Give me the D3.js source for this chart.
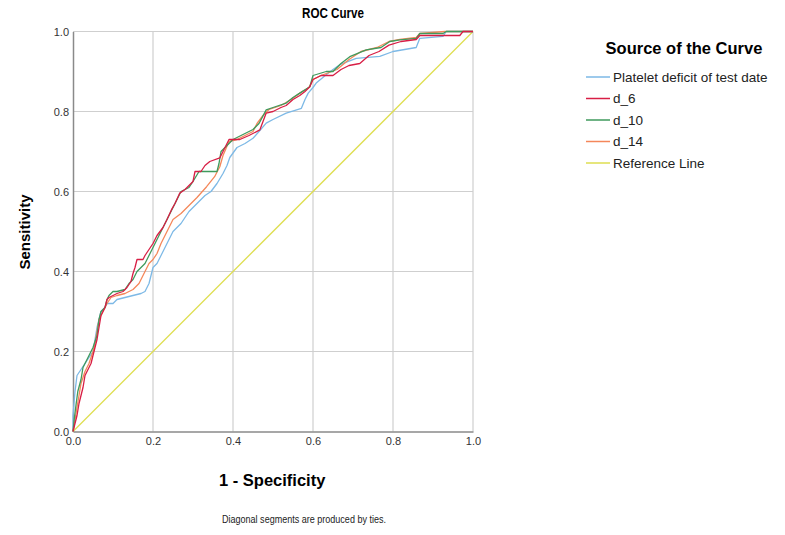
<!DOCTYPE html>
<html><head><meta charset="utf-8">
<script src="https://cdn.jsdelivr.net/npm/d3@7"></script>
<style>body{margin:0;background:#fff}svg{display:block;font-family:"Liberation Sans",Arial,sans-serif}</style>
</head><body><svg id="c" width="785" height="535"></svg>
<script>
const ticks = [0, 0.2, 0.4, 0.6, 0.8, 1.0];
const seriesNames = ["Platelet deficit of test date", "d_6", "d_10", "d_14", "Reference Line"];
const seriesColors = ["#7db9e6", "#d81e45", "#3f9a5c", "#f4875a", "#dede50"];

const platelet = [[0,0],[0,0.04],[0.005,0.1],[0.01,0.14],[0.02,0.155],[0.03,0.17],[0.04,0.185],[0.05,0.2],[0.055,0.23],[0.06,0.26],[0.065,0.28],[0.07,0.3],[0.08,0.31],[0.085,0.32],[0.1,0.32],[0.11,0.33],[0.13,0.335],[0.15,0.34],[0.17,0.345],[0.18,0.35],[0.19,0.37],[0.195,0.39],[0.2,0.41],[0.21,0.42],[0.22,0.44],[0.235,0.47],[0.25,0.5],[0.27,0.52],[0.29,0.55],[0.31,0.57],[0.33,0.59],[0.345,0.6],[0.36,0.62],[0.375,0.645],[0.385,0.665],[0.392,0.685],[0.41,0.71],[0.43,0.72],[0.45,0.733],[0.465,0.75],[0.483,0.771],[0.5,0.78],[0.533,0.796],[0.571,0.808],[0.58,0.83],[0.588,0.846],[0.6,0.86],[0.608,0.871],[0.633,0.892],[0.65,0.905],[0.667,0.917],[0.708,0.933],[0.767,0.938],[0.8,0.95],[0.858,0.96],[0.867,0.983],[0.925,0.988],[0.933,1.0],[1,1]];
const d6 = [[0,0],[0.005,0.02],[0.01,0.04],[0.015,0.07],[0.02,0.09],[0.025,0.11],[0.03,0.14],[0.04,0.16],[0.045,0.17],[0.05,0.19],[0.055,0.21],[0.06,0.23],[0.065,0.26],[0.07,0.29],[0.075,0.3],[0.08,0.31],[0.085,0.33],[0.09,0.335],[0.1,0.34],[0.11,0.345],[0.125,0.35],[0.135,0.36],[0.145,0.375],[0.15,0.395],[0.155,0.41],[0.16,0.43],[0.175,0.43],[0.18,0.44],[0.19,0.455],[0.2,0.47],[0.21,0.49],[0.225,0.51],[0.235,0.53],[0.246,0.554],[0.255,0.57],[0.267,0.596],[0.28,0.605],[0.29,0.615],[0.3,0.625],[0.305,0.65],[0.32,0.65],[0.33,0.665],[0.342,0.675],[0.367,0.684],[0.375,0.7],[0.39,0.73],[0.417,0.73],[0.44,0.74],[0.467,0.754],[0.475,0.775],[0.483,0.796],[0.5,0.8],[0.52,0.81],[0.533,0.815],[0.55,0.83],[0.567,0.84],[0.58,0.85],[0.592,0.862],[0.6,0.88],[0.62,0.89],[0.65,0.89],[0.67,0.905],[0.69,0.915],[0.717,0.92],[0.74,0.94],[0.765,0.95],[0.79,0.966],[0.82,0.975],[0.858,0.98],[0.867,0.99],[0.925,0.99],[0.967,0.99],[0.975,1],[1,1]];
const d10 = [[0,0],[0.003,0.03],[0.008,0.07],[0.012,0.1],[0.02,0.13],[0.025,0.16],[0.035,0.18],[0.045,0.2],[0.05,0.21],[0.06,0.24],[0.065,0.28],[0.07,0.3],[0.08,0.31],[0.085,0.33],[0.09,0.34],[0.1,0.35],[0.11,0.35],[0.13,0.355],[0.14,0.37],[0.15,0.38],[0.16,0.4],[0.17,0.41],[0.18,0.42],[0.19,0.44],[0.2,0.46],[0.21,0.48],[0.22,0.5],[0.235,0.53],[0.245,0.55],[0.26,0.58],[0.27,0.6],[0.29,0.61],[0.3,0.625],[0.315,0.65],[0.36,0.65],[0.365,0.67],[0.37,0.7],[0.385,0.715],[0.4,0.73],[0.42,0.74],[0.45,0.755],[0.465,0.77],[0.483,0.804],[0.5,0.81],[0.533,0.821],[0.55,0.835],[0.567,0.846],[0.592,0.862],[0.6,0.89],[0.633,0.9],[0.65,0.9],[0.67,0.92],[0.692,0.937],[0.733,0.954],[0.77,0.96],[0.792,0.975],[0.817,0.979],[0.858,0.983],[0.867,0.995],[0.925,0.995],[0.933,1],[1,1]];
const d14 = [[0,0],[0.005,0.03],[0.01,0.06],[0.015,0.09],[0.02,0.12],[0.03,0.15],[0.04,0.17],[0.05,0.2],[0.055,0.22],[0.06,0.25],[0.065,0.28],[0.075,0.3],[0.085,0.32],[0.095,0.335],[0.11,0.34],[0.13,0.345],[0.15,0.355],[0.165,0.37],[0.175,0.39],[0.185,0.41],[0.19,0.42],[0.2,0.43],[0.21,0.445],[0.22,0.47],[0.235,0.5],[0.25,0.53],[0.27,0.545],[0.29,0.565],[0.31,0.585],[0.334,0.612],[0.354,0.637],[0.367,0.662],[0.375,0.69],[0.39,0.725],[0.41,0.73],[0.43,0.74],[0.45,0.75],[0.46,0.77],[0.475,0.79],[0.49,0.805],[0.52,0.815],[0.545,0.83],[0.567,0.846],[0.59,0.86],[0.6,0.88],[0.62,0.89],[0.66,0.905],[0.69,0.93],[0.72,0.95],[0.76,0.96],[0.79,0.975],[0.817,0.98],[0.858,0.985],[0.867,0.995],[0.93,1],[1,1]];
const refLine = [[0,0],[1,1]];

const svg = d3.select("#c");
const x = d3.scaleLinear().domain([0,1]).range([73,473]);
const y = d3.scaleLinear().domain([0,1]).range([431.5,31.5]);

// grid
svg.append("g").selectAll("line").data(ticks.slice(1)).join("line")
  .attr("x1", d=>x(d)).attr("x2", d=>x(d)).attr("y1", y(0)).attr("y2", y(1))
  .attr("stroke", "#cfcfcf").attr("stroke-width", 1.2);
svg.append("g").selectAll("line").data(ticks.slice(1)).join("line")
  .attr("y1", d=>y(d)).attr("y2", d=>y(d)).attr("x1", x(0)).attr("x2", x(1))
  .attr("stroke", "#cfcfcf").attr("stroke-width", 1.2);

// axes
const xAxis = svg.append("g").attr("transform", `translate(0,${y(0)})`)
  .call(d3.axisBottom(x).tickValues(ticks).tickFormat(d3.format(".1f")).tickSize(0).tickPadding(6));
const yAxis = svg.append("g").attr("transform", `translate(${x(0)},0)`)
  .call(d3.axisLeft(y).tickValues(ticks).tickFormat(d3.format(".1f")).tickSize(0).tickPadding(4));
[xAxis, yAxis].forEach(a => {
  a.select(".domain").attr("stroke", "#8a8a8a").attr("stroke-width", 1.5);
  a.selectAll("text").attr("font-size", 11).attr("fill", "#333").attr("font-family", "Liberation Sans, Arial, sans-serif");
});

// curves
const line = d3.line().x(d=>x(d[0])).y(d=>y(d[1]));
const allSeries = [platelet, d6, d10, d14, refLine];
const drawOrder = [4, 0, 3, 2, 1];
drawOrder.forEach(i => {
  svg.append("path").datum(allSeries[i]).attr("d", line)
    .attr("fill", "none").attr("stroke", seriesColors[i]).attr("stroke-width", 1.3)
    .attr("stroke-linejoin", "round");
});

// titles
svg.append("text").attr("x", 333).attr("y", 18).attr("text-anchor", "middle")
  .attr("font-size", 14).attr("font-weight", "bold")
  .attr("textLength", 62).attr("lengthAdjust", "spacingAndGlyphs").text("ROC Curve");
svg.append("text").attr("transform", "translate(30,232) rotate(-90)").attr("text-anchor", "middle")
  .attr("font-size", 15).attr("font-weight", "bold").text("Sensitivity");
svg.append("text").attr("x", 219).attr("y", 486)
  .attr("font-size", 16.5).attr("font-weight", "bold").text("1 - Specificity");
svg.append("text").attr("x", 222).attr("y", 523)
  .attr("font-size", 11).attr("fill", "#222")
  .attr("textLength", 164).attr("lengthAdjust", "spacingAndGlyphs")
  .text("Diagonal segments are produced by ties.");

// legend
svg.append("text").attr("x", 684).attr("y", 54).attr("text-anchor", "middle")
  .attr("font-size", 16.5).attr("font-weight", "bold").text("Source of the Curve");
const lg = svg.append("g").selectAll("g").data(seriesNames).join("g")
  .attr("transform", (d,i)=>`translate(586,${77 + i*21.5})`);
lg.append("line").attr("x1", 0).attr("x2", 24).attr("y1", 0).attr("y2", 0)
  .attr("stroke", (d,i)=>seriesColors[i]).attr("stroke-width", 1.5);
lg.append("text").attr("x", 27).attr("y", 4.5).attr("font-size", 13.5).attr("fill", "#222").text(d=>d);
</script></body></html>
